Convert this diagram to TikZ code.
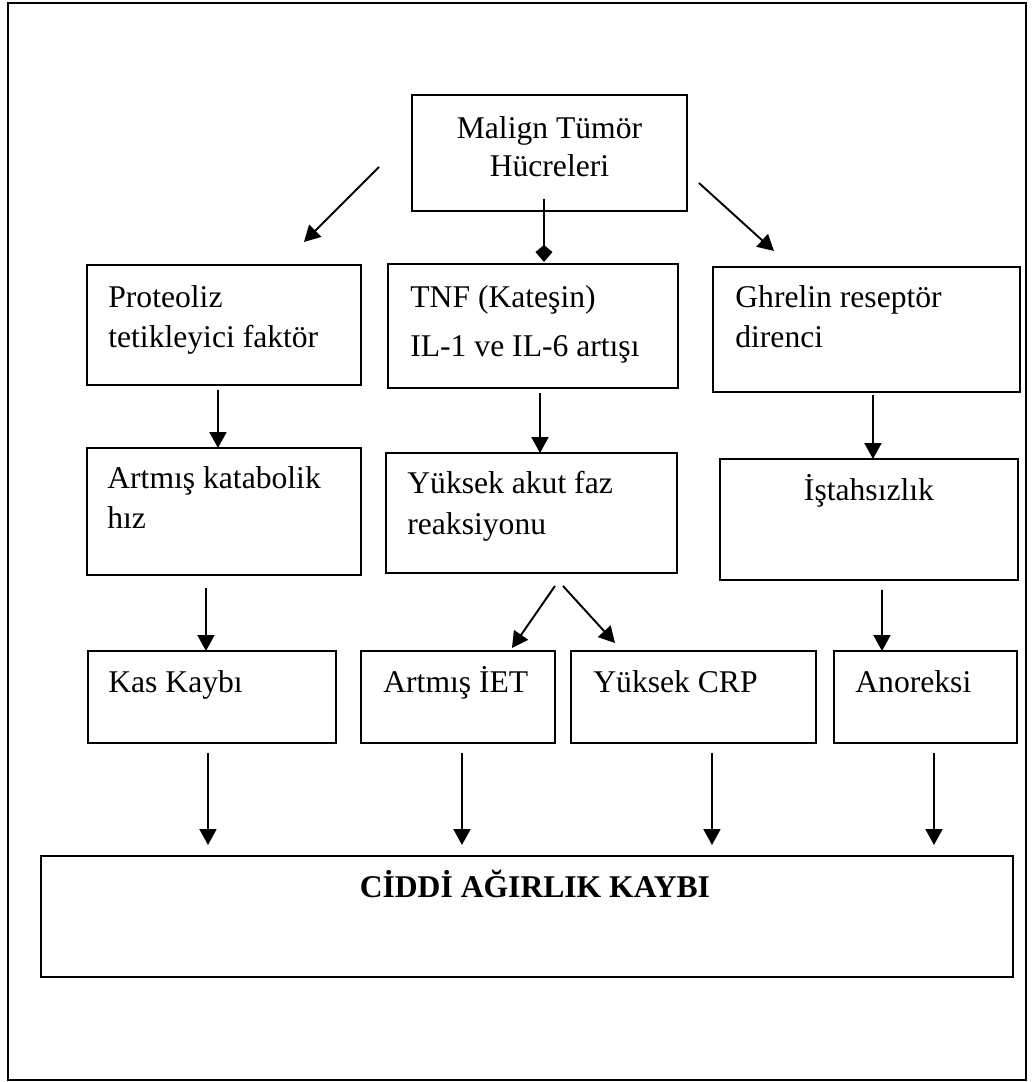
\documentclass[tikz,border=0pt]{standalone}
\usepackage{fontspec}
\setmainfont{Liberation Serif}
\usetikzlibrary{arrows.meta,calc}

\begin{document}
\begin{tikzpicture}[x=0.02cm, y=-0.02cm,
    kutu/.style={draw, line width=1.1pt, inner sep=0pt, outer sep=0pt, anchor=north west},
    yazi/.style={font=\fontsize{18}{23}\selectfont, inner sep=0pt, align=left},
    ok/.style={line width=1.1pt, -{Triangle[length=0.32cm, width=0.34cm]}},
]
\useasboundingbox (0,0) rectangle (1032,1082);
\draw[line width=1.1pt] (8,3) rectangle (1026,1080);

% Top: tumour cells
\node[kutu, minimum width=5.5cm, minimum height=2.32cm] (ust) at (412,95) {};
\node[yazi, align=center, font=\fontsize{18}{21.5}\selectfont, anchor=north] (ustT) at ($(ust.north)+(0,21)$) {Malign Tümör\\Hücreleri};

% Row 2
\node[kutu, minimum width=5.48cm, minimum height=2.4cm] (prot) at (87,265) {};
\node[yazi, anchor=north west] (protT) at ($(prot.north west)+(21,20)$) {Proteoliz\\tetikleyici faktör};
\node[kutu, minimum width=5.8cm, minimum height=2.48cm] (tnf) at (388,264) {};
\node[yazi, anchor=north west] (tnfT) at ($(tnf.north west)+(22,21)$) {TNF (Kateşin)\\[5pt]IL-1 ve IL-6 artışı};
\node[kutu, minimum width=6.14cm, minimum height=2.5cm] (ghr) at (713,267) {};
\node[yazi, anchor=north west] (ghrT) at ($(ghr.north west)+(22,18)$) {Ghrelin reseptör\\direnci};

% Row 3
\node[kutu, minimum width=5.48cm, minimum height=2.54cm] (kat) at (87,448) {};
\node[yazi, anchor=north west] (katT) at ($(kat.north west)+(20,18)$) {Artmış katabolik\\hız};
\node[kutu, minimum width=5.82cm, minimum height=2.4cm] (akut) at (386,453) {};
\node[yazi, anchor=north west] (akutT) at ($(akut.north west)+(21,18)$) {Yüksek akut faz\\reaksiyonu};
\node[kutu, minimum width=5.96cm, minimum height=2.42cm] (istah) at (720,459) {};
\node[yazi, anchor=base] (istahT) at ($(istah.north)+(0,41)$) {İştahsızlık};

% Row 4
\node[kutu, minimum width=4.96cm, minimum height=1.84cm] (kas) at (88,651) {};
\node[yazi, anchor=base west] (kasT) at ($(kas.north west)+(20,41)$) {Kas Kaybı};
\node[kutu, minimum width=3.88cm, minimum height=1.84cm] (iet) at (361,651) {};
\node[yazi, anchor=base west] (ietT) at ($(iet.north west)+(22,41)$) {Artmış İET};
\node[kutu, minimum width=4.9cm, minimum height=1.84cm] (crp) at (571,651) {};
\node[yazi, anchor=base west] (crpT) at ($(crp.north west)+(22,41)$) {Yüksek CRP};
\node[kutu, minimum width=3.66cm, minimum height=1.84cm] (anor) at (834,651) {};
\node[yazi, anchor=base west] (anorT) at ($(anor.north west)+(21,41)$) {Anoreksi};

% Result
\node[kutu, minimum width=19.44cm, minimum height=2.42cm] (sonuc) at (41,856) {};
\node[yazi, font=\fontsize{18}{23}\selectfont\bfseries, anchor=base] (sonucT) at ($(sonuc.north)+(8,41)$) {CİDDİ AĞIRLIK KAYBI};

% Arrows
\draw[ok] ($(ust.west)+(-33,14)$) -- ($(prot.north)+(80,-23)$);
\draw[line width=1.1pt, -{Kite[length=0.34cm, width=0.34cm, inset=0.14cm]}] ($(ust.south)+(-5.5,-12)$) -- ($(tnf.north)+(11,-2)$);
\draw[ok] ($(ust.east)+(12,30)$) -- ($(ghr.north)+(-92.5,-16)$);

\draw[ok] ($(prot.south)+(-6,5)$) coordinate (p1) -- (p1 |- kat.north);
\draw[ok] ($(tnf.south)+(7,5)$) coordinate (t1) -- (t1 |- akut.north);
\draw[ok] ($(ghr.south)+(6.5,3)$) coordinate (g1) -- (g1 |- istah.north);

\draw[ok] ($(kat.south)+(-18,13)$) coordinate (k1) -- (k1 |- kas.north);
\draw[ok] ($(akut.south)+(23.5,13)$) -- ($(iet.north)+(54,-3)$);
\draw[ok] ($(akut.south)+(31.5,13)$) -- ($(crp.north)+(-78.5,-8)$);
\draw[ok] ($(istah.south)+(13,10)$) coordinate (i1) -- (i1 |- anor.north);

\draw[ok, shorten >=0.22cm] ($(kas.south)+(-4,10)$) coordinate (s1) -- (s1 |- sonuc.north);
\draw[ok, shorten >=0.22cm] ($(iet.south)+(4,10)$) coordinate (s2) -- (s2 |- sonuc.north);
\draw[ok, shorten >=0.22cm] ($(crp.south)+(18.5,10)$) coordinate (s3) -- (s3 |- sonuc.north);
\draw[ok, shorten >=0.22cm] ($(anor.south)+(8.5,10)$) coordinate (s4) -- (s4 |- sonuc.north);
\end{tikzpicture}
\end{document}
